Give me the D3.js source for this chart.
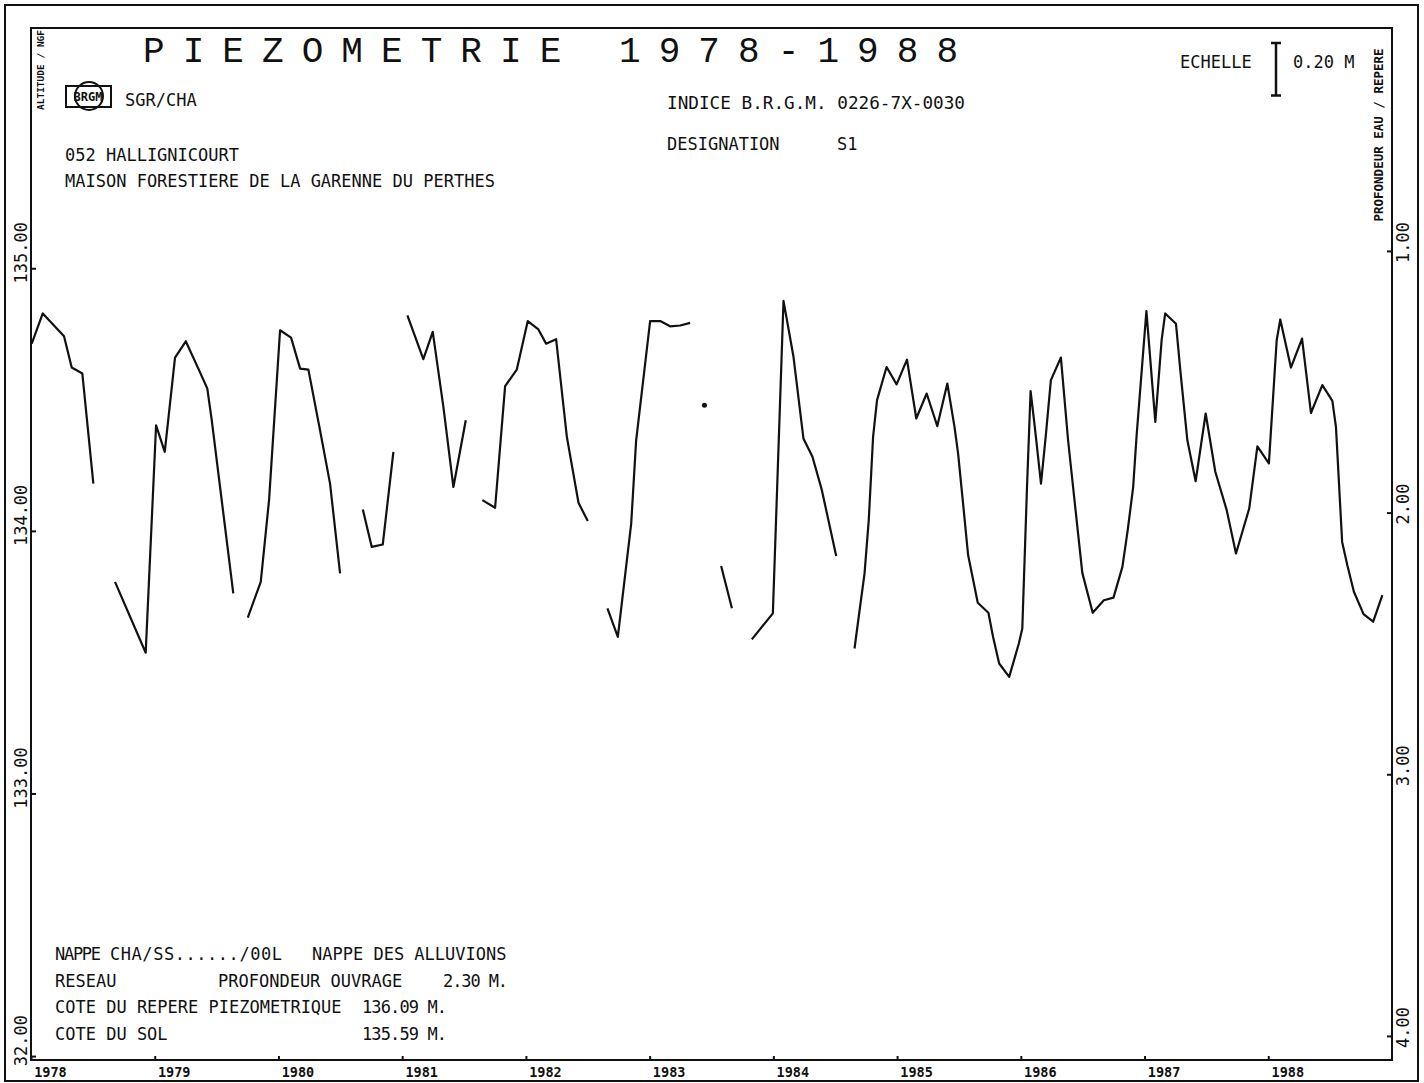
<!DOCTYPE html>
<html>
<head>
<meta charset="utf-8">
<script src="https://cdn.jsdelivr.net/npm/d3@7"></script>
<style>
  body { margin: 0; background: #fff; }
  svg { display: block; }
  text { font-family: "DejaVu Sans Mono", "Liberation Mono", monospace; fill: #111; white-space: pre; }
</style>
</head>
<body>
<div id="chart"></div>
<script>
// observation dates (decimal years) and levels (m NGF); null = break in the record
var dates = [
  1978.006, 1978.095, 1978.267, 1978.329, 1978.415, 1978.504, null,
  1978.679, 1978.927, 1979.011, 1979.081, 1979.164, 1979.251, 1979.358, 1979.425, 1979.461, 1979.635, null,
  1979.752, 1979.857, 1979.924, 1980.013, 1980.102, 1980.175, 1980.242, 1980.336, 1980.417, 1980.498, null,
  1980.682, 1980.754, 1980.843, 1980.929, null,
  1981.042, 1981.171, 1981.247, 1981.333, 1981.414, 1981.514, null,
  1981.648, 1981.751, 1981.832, 1981.926, 1982.015, 1982.101, 1982.163, 1982.244, 1982.331, 1982.425, 1982.500, null,
  1982.659, 1982.743, 1982.851, 1982.891, 1983.004, 1983.085, 1983.166, 1983.247, 1983.327, null,
  1983.443, null,
  1983.578, 1983.665, null,
  1983.826, 1983.996, 1984.082, 1984.163, 1984.243, 1984.316, 1984.392, 1984.508, null,
  1984.656, 1984.690, 1984.737, 1984.771, 1984.806, 1984.838, 1984.915, 1984.996, 1985.080, 1985.155,
  1985.239, 1985.325, 1985.406, 1985.464, 1985.493, 1985.536, 1985.574, 1985.652, 1985.738, 1985.776,
  1985.825, 1985.906, 1985.984, 1986.012, 1986.050, 1986.079, 1986.113, 1986.163, 1986.201, 1986.243,
  1986.324, 1986.382, 1986.431, 1986.497, 1986.581, 1986.671, 1986.749, 1986.821, 1986.864, 1986.908,
  1986.936, 1987.015, 1987.087, 1987.138, 1987.167, 1987.254, 1987.289, 1987.346, 1987.413, 1987.494,
  1987.572, 1987.664, 1987.739, 1987.846, 1987.912, 1988.005, 1988.068, 1988.097, 1988.183, 1988.273,
  1988.345, 1988.437, 1988.518, 1988.547, 1988.597, 1988.639, 1988.692, 1988.770, 1988.848, 1988.922
];

var levels = [
  134.713, 134.828, 134.741, 134.622, 134.599, 134.180, null,
  133.806, 133.536, 134.402, 134.301, 134.660, 134.722, 134.612, 134.542, 134.421, 133.762, null,
  133.670, 133.806, 134.117, 134.764, 134.736, 134.618, 134.614, 134.383, 134.180, 133.838, null,
  134.081, 133.939, 133.948, 134.301, null,
  134.821, 134.654, 134.758, 134.472, 134.167, 134.421, null,
  134.117, 134.088, 134.551, 134.614, 134.799, 134.767, 134.713, 134.730, 134.358, 134.107, 134.038, null,
  133.705, 133.596, 134.028, 134.345, 134.799, 134.799, 134.779, 134.782, 134.792, null,
  134.478, null,
  133.866, 133.705, null,
  133.587, 133.686, 134.876, 134.662, 134.352, 134.282, 134.155, 133.904, null,
  133.552, 133.673, 133.838, 134.041, 134.358, 134.498, 134.624, 134.558, 134.652, 134.428,
  134.523, 134.399, 134.561, 134.396, 134.295, 134.091, 133.908, 133.726, 133.688, 133.596,
  133.495, 133.444, 133.571, 133.628, 134.167, 134.532, 134.396, 134.180, 134.358, 134.574,
  134.660, 134.345, 134.129, 133.840, 133.688, 133.736, 133.746, 133.863, 134.003, 134.167,
  134.364, 134.837, 134.415, 134.726, 134.828, 134.789, 134.612, 134.345, 134.189, 134.447,
  134.225, 134.079, 133.914, 134.085, 134.322, 134.257, 134.726, 134.805, 134.622, 134.732,
  134.449, 134.555, 134.495, 134.396, 133.958, 133.869, 133.768, 133.683, 133.654, 133.755
];

var yearTicks = [1978, 1979, 1980, 1981, 1982, 1983, 1984, 1985, 1986, 1987, 1988];
var levelTicks = [132, 133, 134, 135];
var levelTickLabels = ["32.00", "133.00", "134.00", "135.00"];
var depthTicks = [1, 2, 3, 4];
var depthTickLabels = ["1.00", "2.00", "3.00", "4.00"];

var titleText = "P I E Z O M E T R I E   1 9 7 8 - 1 9 8 8";
var headerLines = ["052 HALLIGNICOURT", "MAISON FORESTIERE DE LA GARENNE DU PERTHES"];
// footer: one row per line, pieces placed in columns
var footerLines = [
  ["NAPPE", "CHA/SS....../00L", "NAPPE DES ALLUVIONS"],
  ["RESEAU", "PROFONDEUR OUVRAGE", "2.30 M."],
  ["COTE DU REPERE PIEZOMETRIQUE", "", "136.09 M."],
  ["COTE DU SOL", "", "135.59 M."]
];

var svgWidth = 1424;
var svgHeight = 1083;

var margin = { top: 28, right: 32, bottom: 23, left: 31 };
var width = svgWidth - margin.left - margin.right;
var height = svgHeight - margin.top - margin.bottom;

var svg = d3.select("#chart")
  .append("svg")
  .attr("width", svgWidth)
  .attr("height", svgHeight);

// outer sheet border
svg.append("rect")
  .attr("x", 5).attr("y", 5)
  .attr("width", 1413).attr("height", 1076)
  .attr("fill", "none").attr("stroke", "#111").attr("stroke-width", 2);

var chartGroup = svg.append("g")
  .attr("transform", `translate(${margin.left}, ${margin.top})`);

// scales
var x = d3.scaleLinear().domain([1978, 1989]).range([0, width]);
var y = d3.scaleLinear().domain([131.985, 135.915]).range([height, 0]);
var yDepth = d3.scaleLinear().domain([0.148, 4.092]).range([0, height]);

// plot frame
chartGroup.append("rect")
  .attr("width", width).attr("height", height)
  .attr("fill", "none").attr("stroke", "#111").attr("stroke-width", 2);

// left axis (altitude)
var leftAxis = d3.axisLeft(y).tickValues(levelTicks).tickSizeInner(-5).tickSizeOuter(0)
  .tickFormat((d, i) => levelTickLabels[i]);
var gl = chartGroup.append("g").call(leftAxis);
gl.select(".domain").remove();
gl.selectAll("line").attr("stroke", "#111").attr("stroke-width", 2);
gl.selectAll("text")
  .attr("x", null).attr("dy", null)
  .attr("transform", "translate(-10,-16) rotate(-90)")
  .attr("text-anchor", "middle")
  .attr("dominant-baseline", "central")
  .style("font-size", "17px");

// right axis (depth below reference)
var rightAxis = d3.axisRight(yDepth).tickValues(depthTicks).tickSizeInner(-5).tickSizeOuter(0)
  .tickFormat((d, i) => depthTickLabels[i]);
var gr = chartGroup.append("g").attr("transform", `translate(${width},0)`).call(rightAxis);
gr.select(".domain").remove();
gr.selectAll("line").attr("stroke", "#111").attr("stroke-width", 2);
gr.selectAll("text")
  .attr("x", null).attr("dy", null)
  .attr("transform", "translate(11,-9) rotate(-90)")
  .attr("text-anchor", "middle")
  .attr("dominant-baseline", "central")
  .style("font-size", "17px");

// bottom axis (years)
var bottomAxis = d3.axisBottom(x).tickValues(yearTicks).tickSizeInner(-4).tickSizeOuter(0)
  .tickFormat(d3.format("d"));
var gb = chartGroup.append("g").attr("transform", `translate(0,${height})`).call(bottomAxis);
gb.select(".domain").remove();
gb.selectAll("line").attr("stroke", "#111").attr("stroke-width", 2);
gb.selectAll("text")
  .attr("x", 19).attr("y", 12).attr("dy", null)
  .attr("text-anchor", "middle")
  .attr("dominant-baseline", "central")
  .style("font-size", "13.5px")
  .style("font-weight", "bold");

// water level line, broken where the record has gaps
var pts = dates.map((d, i) => ({ t: d, v: levels[i] }));
var line = d3.line()
  .defined(d => d.v != null)
  .x(d => x(d.t))
  .y(d => y(d.v));

chartGroup.append("path")
  .datum(pts)
  .attr("d", line)
  .attr("fill", "none")
  .attr("stroke", "#111")
  .attr("stroke-width", 2.2)
  .attr("stroke-linejoin", "round");

// single isolated readings
var lone = pts.filter((d, i) => d.v != null &&
  (i === 0 || pts[i - 1].v == null) && (i === pts.length - 1 || pts[i + 1].v == null));
chartGroup.selectAll("circle.lone")
  .data(lone)
  .enter()
  .append("circle")
  .attr("cx", d => x(d.t))
  .attr("cy", d => y(d.v))
  .attr("r", 2.5)
  .attr("fill", "#111");

// axis titles
svg.append("text")
  .attr("transform", "translate(40,70) rotate(-90)")
  .attr("text-anchor", "middle")
  .attr("dominant-baseline", "central")
  .style("font-size", "9.5px").style("font-weight", "bold")
  .text("ALTITUDE / NGF");

svg.append("text")
  .attr("transform", "translate(1378,135) rotate(-90)")
  .attr("text-anchor", "middle")
  .attr("dominant-baseline", "central")
  .style("font-size", "12.5px").style("font-weight", "bold")
  .text("PROFONDEUR EAU / REPERE");

// title
svg.append("text")
  .attr("x", 143).attr("y", 62)
  .attr("textLength", 815).attr("lengthAdjust", "spacing")
  .style("font-family", "'Liberation Mono', monospace")
  .style("font-size", "36px")
  .text(titleText);

// BRGM logo (rough)
var logo = svg.append("g").attr("fill", "none").attr("stroke", "#111").attr("stroke-width", 2);
logo.append("rect").attr("x", 66).attr("y", 86).attr("width", 45).attr("height", 21);
logo.append("circle").attr("cx", 89).attr("cy", 96).attr("r", 14);
svg.append("text").attr("x", 88).attr("y", 101).attr("text-anchor", "middle")
  .style("font-size", "12px").style("font-weight", "bold").text("BRGM");

svg.append("text").attr("x", 125).attr("y", 106).style("font-size", "17px").text("SGR/CHA");

svg.selectAll("text.head")
  .data(headerLines)
  .enter()
  .append("text")
  .attr("x", 65)
  .attr("y", (d, i) => 161 + i * 26)
  .style("font-size", "17px")
  .text(d => d);

svg.append("text").attr("x", 667).attr("y", 109).style("font-size", "17px")
  .attr("textLength", 298).attr("lengthAdjust", "spacingAndGlyphs")
  .text("INDICE B.R.G.M. 0226-7X-0030");
svg.append("text").attr("x", 667).attr("y", 150).style("font-size", "17px").text("DESIGNATION");
svg.append("text").attr("x", 837).attr("y", 150).style("font-size", "17px").text("S1");

// scale bar: 0.20 m on the level scale
var barTop = 43;
var barLen = y(134.8) - y(135);
var bar = svg.append("g").attr("stroke", "#111").attr("stroke-width", 2.5);
bar.append("line").attr("x1", 1276).attr("x2", 1276).attr("y1", barTop).attr("y2", barTop + barLen);
bar.append("line").attr("x1", 1271).attr("x2", 1281).attr("y1", barTop).attr("y2", barTop);
bar.append("line").attr("x1", 1271).attr("x2", 1281).attr("y1", barTop + barLen).attr("y2", barTop + barLen);
svg.append("text").attr("x", 1180).attr("y", 68).style("font-size", "17px").text("ECHELLE");
svg.append("text").attr("x", 1293).attr("y", 68).style("font-size", "17px").text("0.20 M");

// footer block: column x and (optional) fitted width for each piece
var footCols = [
  [[55, 46], [110, 172], [312, 0]],
  [[55, 0], [218, 0], [443, 65]],
  [[55, 0], [0, 0], [362, 85]],
  [[55, 0], [0, 0], [362, 85]]
];
var foot = svg.selectAll("g.foot")
  .data(footerLines)
  .enter()
  .append("g")
  .attr("transform", (d, i) => `translate(0,${960 + i * 26.5})`);
foot.each(function(row, r) {
  var g = d3.select(this);
  row.forEach(function(piece, c) {
    if (!piece) return;
    var t = g.append("text")
      .attr("x", footCols[r][c][0])
      .style("font-size", "17px")
      .text(piece);
    if (footCols[r][c][1]) {
      t.attr("textLength", footCols[r][c][1]).attr("lengthAdjust", "spacing");
    }
  });
});
</script>
</body>
</html>
